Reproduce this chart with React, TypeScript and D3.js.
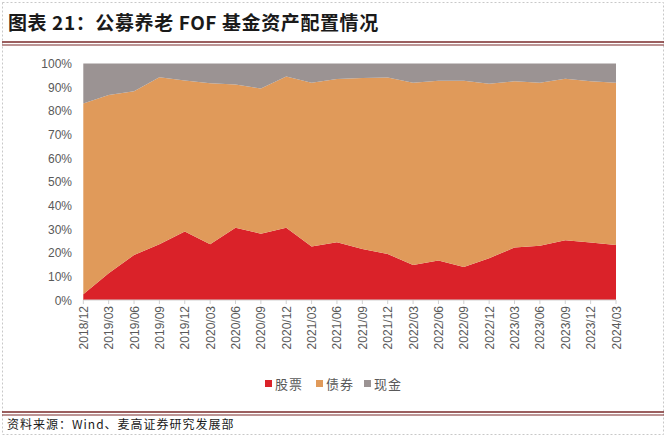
import React from "react";
import * as d3 from "d3";

const categories = ["2018/12","2019/03","2019/06","2019/09","2019/12","2020/03","2020/06","2020/09","2020/12","2021/03","2021/06","2021/09","2021/12","2022/03","2022/06","2022/09","2022/12","2023/03","2023/06","2023/09","2023/12","2024/03"];
const stocks = [2.4,11.3,19.0,23.6,29.0,23.6,30.6,28.0,30.6,22.6,24.4,21.6,19.4,14.8,16.7,14.0,17.7,22.2,22.9,25.3,24.3,23.3];
const bonds = [80.7,75.4,69.3,70.6,63.8,68.1,60.5,61.4,63.9,69.3,69.0,72.3,74.7,77.1,76.0,78.7,73.7,70.3,69.0,68.3,68.2,68.6];
const cash = [16.9,13.3,11.7,5.8,7.2,8.3,8.9,10.6,5.5,8.1,6.6,6.1,5.9,8.1,7.3,7.3,8.6,7.5,8.1,6.4,7.5,8.1];
const seriesNames = ["股票","债券","现金"];
const colors = ["#DA2229","#E09A5A","#9B9393"];
const yTicks = [0,10,20,30,40,50,60,70,80,90,100];

export default function App() {
  const W = 668, H = 444;
  const left = 83.3, right = 616, top = 63.5, bottom = 300;
  const x = d3.scalePoint<string>().domain(categories).range([left, right]);
  const y = d3.scaleLinear().domain([0, 100]).range([bottom, top]);
  const rows = categories.map((c, i) => ({ c, s0: stocks[i], s1: bonds[i], s2: cash[i] }));
  const stack = d3.stack<any>().keys(["s0","s1","s2"]);
  const layers = stack(rows);
  const area = d3.area<any>()
    .x((d) => x(d.data.c) as number)
    .y0((d) => y(d[0]))
    .y1((d) => y(Math.min(100, d[1])));
  const legendX = [265, 316, 364];
  const font = "'Liberation Sans', Arial, sans-serif";
  const cjk = "'Noto Sans CJK SC', sans-serif";
  return (
    <svg width={W} height={H} style={{ position: "absolute", left: 0, top: 0, background: "#fff" }}>
      <rect x={2.5} y={2.5} width={661} height={432} fill="none" stroke="#C8C8C8" strokeDasharray="2,2" />
      <text x={8} y={30} fontFamily={cjk} fontWeight={700} fontSize={19} letterSpacing={0.6} fill="#1a1a1a">图表 21：公募养老 FOF 基金资产配置情况</text>
      <line x1={2} x2={664} y1={42} y2={42} stroke="#7A2A2A" strokeWidth={1.5} />
      <line x1={2} x2={664} y1={45} y2={45} stroke="#7A2A2A" strokeWidth={1} />
      {layers.map((layer, i) => (
        <path key={i} d={area(layer as any) || ""} fill={colors[i]} />
      ))}
      {yTicks.map((t) => (
        <text key={t} x={72} y={y(t) + 4.5} textAnchor="end" fontFamily={font} fontSize={12} fill="#595959">{t}%</text>
      ))}
      <line x1={left} x2={right} y1={bottom} y2={bottom} stroke="#D0D0D0" />
      {categories.map((c) => (
        <g key={c}>
          <line x1={x(c)} x2={x(c)} y1={bottom} y2={bottom + 4} stroke="#D0D0D0" />
          <text transform={`translate(${(x(c) as number) + 4.5},${bottom + 6}) rotate(-90)`} textAnchor="end" fontFamily={font} fontSize={12} fill="#595959">{c}</text>
        </g>
      ))}
      {seriesNames.map((n, i) => (
        <g key={n}>
          <rect x={legendX[i]} y={380} width={7} height={7} fill={colors[i]} />
          <text x={legendX[i] + 10} y={389} fontFamily={cjk} fontSize={13} letterSpacing={1} fill="#595959">{n}</text>
        </g>
      ))}
      <line x1={2} x2={664} y1={412} y2={412} stroke="#7A2A2A" strokeWidth={1.5} />
      <line x1={2} x2={664} y1={415} y2={415} stroke="#7A2A2A" strokeWidth={1} />
      <text x={7} y={429} fontFamily={cjk} fontSize={12} letterSpacing={1} fill="#1a1a1a">资料来源：Wind、麦高证券研究发展部</text>
    </svg>
  );
}
